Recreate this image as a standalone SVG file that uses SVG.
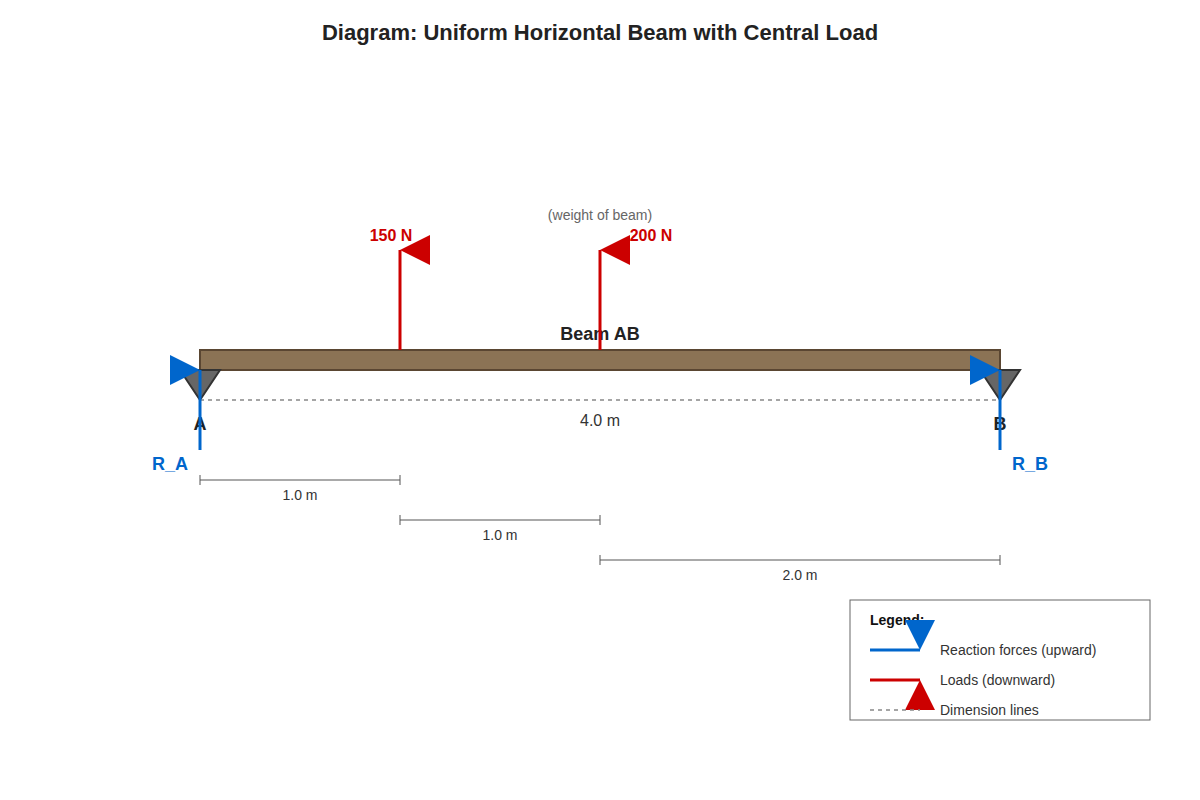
<svg xmlns="http://www.w3.org/2000/svg" width="1200" height="800" viewBox="0 0 1200 800">
<style>
text{font-family:"Liberation Sans",Arial,sans-serif}
.load{stroke:#cc0000;stroke-width:3}
.react{stroke:#0066cc;stroke-width:3}
.dim{stroke:#555;stroke-width:1}
.dash{stroke:#888;stroke-width:1.5;stroke-dasharray:4,4}
.sup{fill:#666;stroke:#333;stroke-width:2}
.rh{fill:#cc0000}.bh{fill:#0066cc}
.dl{font-size:14px;fill:#333;text-anchor:middle}
</style>
<rect width="1200" height="800" fill="#fff"/>
<text x="600" y="40" text-anchor="middle" font-size="22" font-weight="bold" fill="#222">Diagram: Uniform Horizontal Beam with Central Load</text>
<g id="beam"><rect x="200" y="350" width="800" height="20" fill="#8b7355" stroke="#5a4632" stroke-width="2"/>
<text x="600" y="340" text-anchor="middle" font-size="18" font-weight="bold" fill="#222">Beam AB</text></g>
<g id="supportA"><polygon class="sup" points="180,370 220,370 200,400"/><text x="200" y="430" text-anchor="middle" font-size="18" font-weight="bold" fill="#222">A</text></g>
<g id="supportB"><polygon class="sup" points="980,370 1020,370 1000,400"/><text x="1000" y="430" text-anchor="middle" font-size="18" font-weight="bold" fill="#222">B</text></g>
<g id="connectors">
<line class="dash" x1="200" y1="400" x2="1000" y2="400"/>
<line class="load" x1="400" y1="350" x2="400" y2="250"/><polygon class="rh" points="400,250 430,235 430,265"/>
<line class="load" x1="600" y1="350" x2="600" y2="250"/><polygon class="rh" points="600,250 630,235 630,265"/>
<line class="react" x1="200" y1="450" x2="200" y2="370"/><polygon class="bh" points="200,370 170,355 170,385"/>
<line class="react" x1="1000" y1="450" x2="1000" y2="370"/><polygon class="bh" points="1000,370 970,355 970,385"/>
<path class="dim" d="M200,480H400M200,475V485M400,475V485"/>
<path class="dim" d="M400,520H600M400,515V525M600,515V525"/>
<path class="dim" d="M600,560H1000M600,555V565M1000,555V565"/>
</g>
<g id="labels">
<text x="391" y="241" text-anchor="middle" font-size="16" font-weight="bold" fill="#cc0000">150 N</text>
<text x="651" y="241" text-anchor="middle" font-size="16" font-weight="bold" fill="#cc0000">200 N</text>
<text x="600" y="220" text-anchor="middle" font-size="14" fill="#666">(weight of beam)</text>
<text x="170" y="470" text-anchor="middle" font-size="18" font-weight="bold" fill="#0066cc">R_A</text>
<text x="1030" y="470" text-anchor="middle" font-size="18" font-weight="bold" fill="#0066cc">R_B</text>
<text x="600" y="426" text-anchor="middle" font-size="16" fill="#333">4.0 m</text>
<text class="dl" x="300" y="500">1.0 m</text>
<text class="dl" x="500" y="540">1.0 m</text>
<text class="dl" x="800" y="580">2.0 m</text>
</g>
<g id="legend">
<rect x="850" y="600" width="300" height="120" fill="#fff" stroke="#666" stroke-width="1"/>
<text x="870" y="625" font-size="14" font-weight="bold" fill="#111">Legend:</text>
<line class="react" x1="870" y1="650" x2="920" y2="650"/><polygon class="bh" points="905,620 935,620 920,650"/>
<text x="940" y="655" font-size="14" fill="#333">Reaction forces (upward)</text>
<line class="load" x1="870" y1="680" x2="920" y2="680"/><polygon class="rh" points="905,710 935,710 920,680"/>
<text x="940" y="685" font-size="14" fill="#333">Loads (downward)</text>
<line class="dash" x1="870" y1="710" x2="920" y2="710"/>
<text x="940" y="715" font-size="14" fill="#333">Dimension lines</text>
</g>
</svg>
